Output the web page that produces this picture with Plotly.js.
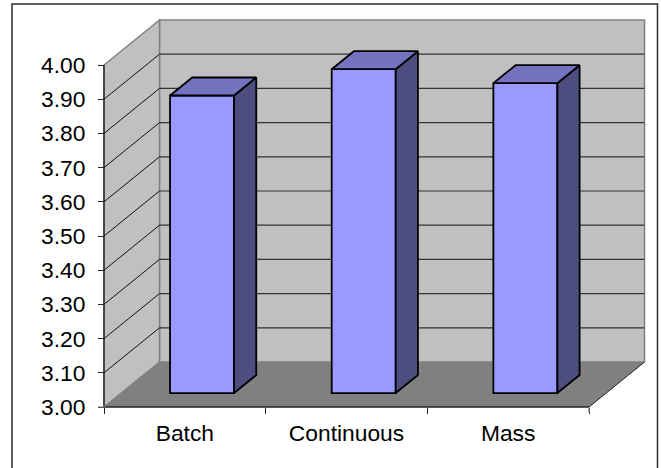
<!DOCTYPE html>
<html><head><meta charset="utf-8">
<script src="https://cdn.plot.ly/plotly-3.0.1.min.js"></script>
<style>html,body{margin:0;padding:0;background:#fff;overflow:hidden}#chart{width:661px;height:468px}</style>
</head><body><div id="chart"></div>
<script>
const categories = ["Batch", "Continuous", "Mass"];
const values = [3.87, 3.947, 3.906];
const yTickVals = [3.0, 3.1, 3.2, 3.3, 3.4, 3.5, 3.6, 3.7, 3.8, 3.9, 4.0];
const yTickText = ["3.00", "3.10", "3.20", "3.30", "3.40", "3.50", "3.60", "3.70", "3.80", "3.90", "4.00"];

// pixels per data unit of the front plane, and where the plane sits in the figure
const W = 661, H = 468;
const pxPerCat = 161.67, pxPerVal = 342, frontLeft = 104, frontBottom = 407;
const xRange = [-0.5 - frontLeft / pxPerCat, -0.5 + (W - frontLeft) / pxPerCat];
const yRange = [3 - (H - frontBottom) / pxPerVal, 3 + frontBottom / pxPerVal];
// oblique projection: depth 0 = front plane, 1 = back wall
const depthX = 55.5 / pxPerCat, depthY = 45 / pxPerVal;
const px = (c, d) => c + d * depthX;
const py = (v, d) => v + d * depthY;
const path = pts => 'M' + pts.map(p => px(p[0], p[2]) + ',' + py(p[1], p[2])).join('L') + 'Z';
const L = -0.5, R = 2.5, B = 3, T = 4;

const wallFill = '#C0C0C0', edge = '#808080';
const shapes = [
  {type:'path', path:path([[L,B,1],[R,B,1],[R,T,1],[L,T,1]]), fillcolor:wallFill, line:{color:edge,width:1.5}},
  {type:'path', path:path([[L,B,0],[L,B,1],[L,T,1],[L,T,0]]), fillcolor:wallFill, line:{color:edge,width:1.5}},
  {type:'path', path:path([[L,B,0],[R,B,0],[R,B,1],[L,B,1]]), fillcolor:'#808080', line:{width:0}}
];
const seg = (x0,y0,x1,y1,color,width) => ({type:'line',x0,y0,x1,y1,line:{color,width}});
yTickVals.filter(v => v > 3 && v < 4).forEach(v => {
  shapes.push(seg(px(L,1),py(v,1),px(R,1),py(v,1),'#333333',1.2));
  shapes.push(seg(px(L,0),py(v,0),px(L,1),py(v,1),'#111111',1));
});
// front edges
[seg(L,B,L,T,'#111111',1.2),
 seg(L,B,R,B,'#222222',1.5),
 seg(R,B,px(R,1),py(B,1),'#222222',1),
 seg(L,B,px(L,1),py(B,1),'#808080',1)
].forEach(s => shapes.push(s));
shapes.forEach(s => { s.xref='x'; s.yref='y'; s.layer='below'; });
// chart frame (runs off the bottom of the picture)
shapes.push({type:'rect',xref:'paper',yref:'paper',x0:12/W,x1:657.5/W,y0:1-4/H,y1:-0.05,
  line:{color:'#2b2b2b',width:1.5},fillcolor:'rgba(0,0,0,0)',layer:'below'});
// the tick at the lowest value and the one at the right end are grey
const tickLen = 6;
[seg(L-tickLen/pxPerCat,B,L,B,'#808080',1.2), seg(R,B,R,B-tickLen/pxPerVal,'#808080',1.2)]
  .forEach(s => { s.xref='x'; s.yref='y'; s.layer='above'; shapes.push(s); });

// bars stand inside the floor between these depths
const d0 = 0.31, d1 = 0.71, barW = 0.396;
const topX=[], topY=[], sideX=[], sideY=[];
categories.forEach((c,i) => {
  const l = i - barW/2, r = i + barW/2, v = values[i];
  [[l,v,d0],[r,v,d0],[r,v,d1],[l,v,d1],[l,v,d0]].forEach(p => { topX.push(px(p[0],p[2])); topY.push(py(p[1],p[2])); });
  topX.push(null); topY.push(null);
  [[r,B,d0],[r,B,d1],[r,v,d1],[r,v,d0],[r,B,d0]].forEach(p => { sideX.push(px(p[0],p[2])); sideY.push(py(p[1],p[2])); });
  sideX.push(null); sideY.push(null);
});

const barLine = {color:'#000000', width:1.8};
const data = [
  {type:'bar', x:categories.map((c,i)=>px(i,d0)), y:values.map(v=>v-B), base:py(B,d0), width:barW,
   marker:{color:'#9999FF', line:barLine}, hoverinfo:'skip'},
  {type:'scatter', mode:'lines', x:sideX, y:sideY, fill:'toself', fillcolor:'#4D4D80', line:barLine, hoverinfo:'skip'},
  {type:'scatter', mode:'lines', x:topX, y:topY, fill:'toself', fillcolor:'#7373BF', line:barLine, hoverinfo:'skip'}
];

const font = {family:'"Liberation Sans", Arial, sans-serif', size:22.8, color:'#000'};
const layout = {
  width:W, height:H, margin:{l:0,r:0,t:0,b:0,pad:0}, showlegend:false,
  paper_bgcolor:'#fff', plot_bgcolor:'rgba(0,0,0,0)', font, shapes,
  xaxis:{range:xRange, anchor:'free', position:(H-frontBottom)/H, tickmode:'array',
    tickvals:categories.map((c,i)=>i), ticktext:categories, ticks:'', ticklabelstandoff:10,
    showgrid:false, zeroline:false, showline:false, tickfont:font,
    minor:{tickmode:'array', tickvals:[-0.5,0.5,1.5,2.5], ticks:'outside', ticklen:tickLen, tickwidth:1, tickcolor:'#222', showgrid:false}},
  yaxis:{range:yRange, anchor:'free', position:frontLeft/W, tickmode:'array',
    tickvals:yTickVals, ticktext:yTickText, ticks:'outside', ticklen:tickLen, tickwidth:1, tickcolor:'#222',
    ticklabelstandoff:8, showgrid:false, zeroline:false, showline:false, tickfont:font}
};
Plotly.newPlot('chart', data, layout, {staticPlot:true, displayModeBar:false});
</script></body></html>
